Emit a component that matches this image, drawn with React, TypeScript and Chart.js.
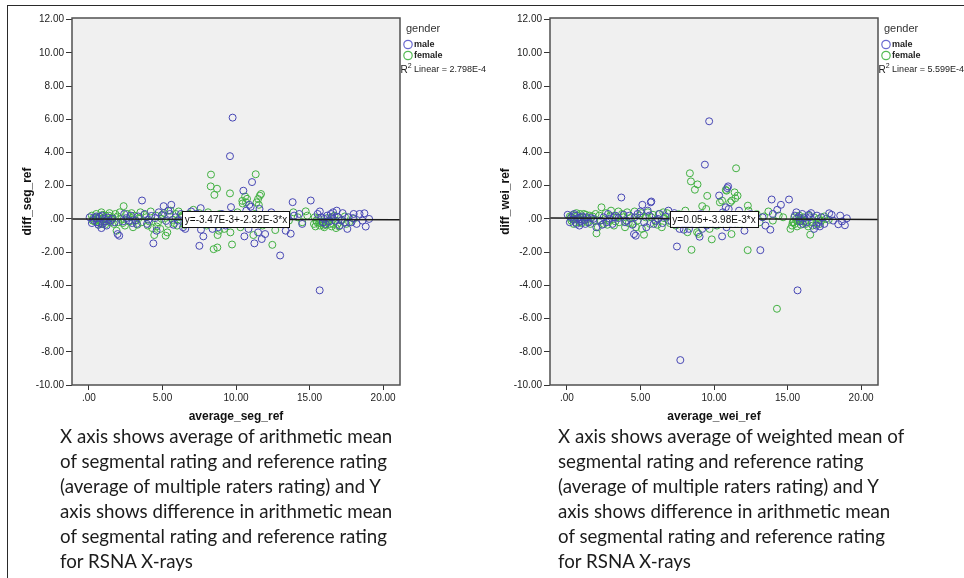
import React, { useEffect, useLayoutEffect, useRef } from 'react';
import { Chart, registerables } from 'chart.js';

Chart.register(...registerables);

// ---------- axis settings ----------
const X_MIN = -1.15;
const X_MAX = 21.15;
const Y_MIN = -10;
const Y_MAX = 12.1;
const X_STEP = 5;
const Y_STEP = 2;

const SERIES_NAMES = ['male', 'female'];
const LEGEND_TITLE = 'gender';

// ---------- left panel: segmental vs reference ----------
const SEG_X_TITLE = 'average_seg_ref';
const SEG_Y_TITLE = 'diff_seg_ref';
const SEG_EQUATION = 'y=-3.47E-3+-2.32E-3*x';
const SEG_R2 = '2.798E-4';
const SEG_INTERCEPT = -3.47e-3;
const SEG_SLOPE = -2.32e-3;

const SEG_MALE: number[][] = [
  [0.05, 0.1], [0.3, -0.05], [0.45, 0.05], [0.55, -0.2], [0.65, -0.35], [0.75, 0.12], [0.85, -0.55], [0.95, -0.3],
  [1.05, 0.0], [1.15, -0.15], [1.3, 0.08], [1.45, -0.1], [1.6, 0.02], [1.95, -0.91], [2.06, -1.01],
  [2.3, -0.15], [2.55, 0.05], [2.75, -0.1], [2.95, -0.25], [3.15, -0.08], [3.35, 0.15], [3.61, 1.11], [3.8, 0.3],
  [4.05, -0.05], [4.25, 0.18], [4.38, -1.47], [4.6, -0.71], [4.75, 0.4], [4.95, 0.22], [5.08, 0.77], [5.25, -0.12],
  [5.5, 0.3], [5.6, 0.85], [5.75, -0.35], [6.05, -0.1], [6.4, -0.5], [6.55, -0.6], [6.7, 0.12], [6.95, 0.45],
  [7.1, -0.2], [7.3, 0.3], [7.51, -1.62], [7.6, 0.65], [7.62, -0.65], [7.78, -1.05], [7.95, -0.3], [8.2, 0.1],
  [8.6, -0.2], [8.8, -0.5], [9.05, 0.3], [9.3, -0.4], [9.59, 3.78], [9.66, 0.71], [9.77, 6.1], [9.85, 0.2],
  [10.2, -0.3], [10.5, 1.7], [10.57, -1.05], [10.7, 0.5], [10.9, 0.85], [11.0, 0.73], [11.09, 2.22], [11.2, -0.3],
  [11.25, -1.47], [11.5, -0.81], [11.6, 0.6], [11.75, -1.21], [11.98, -0.91], [12.05, -0.2], [12.4, 0.4],
  [13.0, -2.2], [13.2, -0.3], [13.38, -0.71], [13.5, 0.1], [13.72, -0.89], [13.85, 1.01], [13.95, 0.2], [14.3, 0.3],
  [14.5, -0.3], [15.08, 1.11], [15.55, 0.3], [15.69, -4.3], [15.8, 0.1], [15.9, -0.2], [16.0, 0.0], [16.2, 0.2],
  [16.35, -0.15], [16.5, 0.1], [16.6, 0.4], [16.75, -0.1], [16.85, 0.5], [17.05, -0.4], [17.25, 0.35], [17.4, -0.2],
  [17.57, -0.6], [17.65, 0.1], [17.85, -0.2], [17.95, 0.05], [18.2, -0.3], [18.4, 0.3], [18.73, 0.34], [18.82, -0.46],
  [19.05, 0.0],
  [0.2, -0.25], [0.5, 0.15], [0.9, 0.2], [1.2, -0.4], [1.75, -0.2], [2.4, 0.3], [2.85, 0.2], [3.25, -0.3],
  [3.95, -0.3], [4.5, 0.05], [5.4, 0.5], [5.9, 0.1], [6.25, 0.3], [7.4, -0.1], [8.4, -0.6], [9.15, -0.1],
  [10.4, 0.1], [10.85, -0.6], [12.2, 0.15], [15.7, 0.45], [16.1, -0.3], [16.45, 0.3], [16.95, 0.1], [17.15, -0.1],
  [18.0, 0.3], [18.6, -0.1],
];

const SEG_FEMALE: number[][] = [
  [0.2, 0.2], [0.3, 0.05], [0.4, -0.15], [0.5, 0.3], [0.6, 0.0], [0.7, 0.15], [0.75, -0.25], [0.8, -0.1],
  [0.88, -0.3], [0.95, 0.25], [1.0, 0.05], [1.05, -0.15], [1.15, 0.18], [1.25, -0.05], [1.35, 0.2], [1.45, -0.2],
  [1.6, 0.1], [1.7, -0.3], [1.8, 0.3], [1.88, -0.71], [2.0, -0.2], [2.1, 0.4], [2.2, 0.0], [2.36, 0.77],
  [2.45, -0.4], [2.6, 0.3], [2.8, 0.1], [3.0, -0.5], [3.1, 0.2], [3.3, -0.35], [3.5, 0.4], [3.6, -0.2],
  [3.9, 0.1], [4.0, -0.4], [4.2, 0.45], [4.3, -0.55], [4.44, -0.97], [4.55, 0.2], [4.7, -0.2], [4.85, -0.6],
  [4.95, 0.0], [5.1, 0.35], [5.22, -1.01], [5.33, -0.81], [5.4, -0.3], [5.55, 0.5], [5.7, -0.05], [5.9, 0.3],
  [6.0, -0.4], [6.2, 0.1], [6.4, 0.25], [6.7, -0.2], [6.9, 0.15], [7.1, 0.55], [7.3, -0.3], [7.7, 0.1],
  [8.0, -0.4], [8.1, 0.4], [8.28, 1.96], [8.3, 2.67], [8.4, -0.1], [8.48, -1.82], [8.53, 1.45], [8.71, 1.82],
  [8.73, -1.72], [8.75, -0.97], [8.84, -0.71], [8.9, 0.3], [9.2, -0.6], [9.5, 0.1], [9.59, 1.54], [9.62, -0.81],
  [9.73, -1.54], [9.9, -0.3], [10.1, 0.4], [10.3, -0.5], [10.43, 1.09], [10.45, 0.93], [10.6, 0.2], [10.62, 1.35],
  [10.68, 1.0], [10.75, 1.21], [10.9, -0.1], [11.18, -0.97], [11.3, 0.3], [11.34, 2.69], [11.4, 1.0], [11.5, 1.2],
  [11.55, 0.85], [11.62, 1.4], [11.7, 1.5], [11.8, -0.4], [12.1, 0.2], [12.47, -1.56], [12.6, -0.2], [12.67, -0.67],
  [12.8, 0.05], [13.2, 0.25], [13.6, -0.1], [13.9, 0.4], [14.2, 0.1], [14.5, -0.2], [14.74, 0.46], [14.85, 0.2],
  [15.3, -0.3], [15.4, -0.45], [15.5, -0.2], [15.6, 0.05], [15.7, -0.4], [15.8, -0.15], [15.9, -0.25], [16.0, -0.5],
  [16.1, -0.35], [16.2, 0.05], [16.3, -0.1], [16.5, -0.45], [16.6, -0.3], [16.7, 0.2], [16.8, -0.55], [16.9, -0.3],
  [17.2, -0.05], [17.4, 0.15], [17.7, -0.2], [18.0, 0.0],
  [0.25, -0.1], [0.45, 0.1], [0.65, -0.35], [0.85, 0.4], [1.1, -0.35], [1.4, 0.35], [1.55, -0.05], [1.95, 0.15],
  [2.3, -0.25], [2.7, -0.15], [2.9, 0.35], [3.2, -0.1], [3.4, 0.05], [3.75, 0.25], [4.1, -0.15], [4.6, -0.45],
  [5.0, 0.25], [5.8, -0.25], [6.1, 0.45], [6.5, -0.35], [6.8, 0.3], [7.5, 0.35], [7.9, -0.15], [15.35, 0.1],
  [15.45, -0.1], [15.65, -0.25], [15.95, -0.4], [16.15, -0.2], [16.4, -0.3], [16.55, 0.1], [17.0, -0.45], [17.5, -0.3],
];

// ---------- right panel: weighted vs reference ----------
const WEI_X_TITLE = 'average_wei_ref';
const WEI_Y_TITLE = 'diff_wei_ref';
const WEI_EQUATION = 'y=0.05+-3.98E-3*x';
const WEI_R2 = '5.599E-4';
const WEI_INTERCEPT = 0.05;
const WEI_SLOPE = -3.98e-3;

const WEI_MALE: number[][] = [
  [0.05, 0.25], [0.3, 0.1], [0.45, -0.05], [0.55, 0.2], [0.65, -0.3], [0.75, 0.05], [0.85, -0.4], [0.95, -0.15],
  [1.05, 0.15], [1.2, -0.05], [1.35, 0.1], [1.5, -0.2], [1.65, 0.05], [2.0, -0.5], [2.25, -0.1], [2.5, 0.1],
  [2.7, -0.2], [2.9, 0.0], [3.1, -0.3], [3.3, 0.2], [3.5, 0.05], [3.7, 1.29], [3.85, 0.25], [4.05, -0.1],
  [4.25, 0.2], [4.45, -0.35], [4.56, -0.91], [4.68, -1.01], [4.8, 0.3], [5.0, 0.45], [5.13, 0.85], [5.25, -0.2],
  [5.4, -0.5], [5.6, 0.2], [5.7, 1.0], [5.74, 1.05], [5.9, -0.3], [6.2, 0.0], [6.5, -0.25], [6.7, 0.15],
  [6.9, 0.5], [7.1, -0.15], [7.3, 0.35], [7.48, -1.66], [7.66, -0.6], [7.71, -8.5], [7.95, -0.65], [8.1, 0.2],
  [8.3, -0.6], [8.6, 0.1], [9.02, -1.07], [9.1, 0.3], [9.38, 3.27], [9.5, -0.4], [9.67, 5.88], [9.8, 0.2],
  [10.1, -0.35], [10.35, 1.41], [10.55, -1.05], [10.6, 0.4], [10.8, 0.7], [10.9, 1.86], [10.96, 1.96], [11.0, 0.6],
  [11.3, -0.3], [11.7, 0.5], [12.07, -0.71], [12.2, -0.2], [12.5, 0.3], [13.15, -1.88], [13.3, 0.1], [13.5, -0.4],
  [13.83, -0.65], [13.92, 1.17], [14.0, 0.3], [14.3, 0.55], [14.55, 0.85], [15.1, 1.17], [15.5, 0.2], [15.68, -4.3],
  [15.75, 0.1], [15.85, -0.15], [16.0, 0.3], [16.15, 0.05], [16.3, -0.2], [16.45, 0.25], [16.6, 0.35], [16.8, -0.6],
  [16.95, -0.4], [17.1, -0.2], [17.3, 0.1], [17.5, -0.3], [17.83, 0.34], [18.1, -0.1], [18.45, -0.32], [18.58, 0.2],
  [18.9, -0.38], [19.03, 0.04],
  [0.2, -0.2], [0.5, 0.3], [0.9, 0.1], [1.25, -0.3], [1.8, 0.0], [2.4, -0.35], [2.8, 0.3], [3.2, 0.1],
  [3.95, -0.2], [4.6, 0.1], [5.5, 0.5], [6.0, -0.1], [6.3, 0.3], [7.4, -0.2], [8.4, -0.3], [9.2, -0.6],
  [10.4, 0.1], [10.85, -0.5], [12.3, 0.1], [15.6, 0.4], [16.05, -0.3], [16.5, 0.1], [17.0, 0.2], [17.2, -0.45],
  [18.0, 0.25], [18.7, -0.15],
];

const WEI_FEMALE: number[][] = [
  [0.2, 0.15], [0.3, -0.1], [0.4, 0.25], [0.5, 0.0], [0.6, -0.2], [0.7, 0.2], [0.8, -0.05], [0.9, 0.3],
  [1.0, -0.25], [1.1, 0.1], [1.2, -0.1], [1.3, 0.25], [1.45, 0.0], [1.6, -0.3], [1.75, 0.15], [1.85, -0.1],
  [2.01, -0.87], [2.1, -0.5], [2.2, 0.2], [2.35, 0.7], [2.5, -0.3], [2.65, 0.35], [2.85, -0.1], [3.0, 0.5],
  [3.2, -0.4], [3.4, 0.1], [3.55, -0.2], [3.75, 0.3], [3.95, -0.5], [4.1, 0.4], [4.3, 0.05], [4.5, -0.3],
  [4.6, 0.45], [4.8, -0.1], [4.95, 0.2], [5.1, -0.6], [5.24, -0.95], [5.35, 0.1], [5.5, 0.4], [5.65, -0.3],
  [5.85, 0.25], [6.05, -0.15], [6.25, 0.3], [6.45, -0.5], [6.6, 0.05], [6.8, 0.35], [7.0, -0.25], [7.2, 0.2],
  [7.4, -0.4], [7.6, 0.3], [7.85, -0.2], [8.05, 0.5], [8.2, -0.8], [8.36, 2.75], [8.43, 2.26], [8.47, -1.86],
  [8.55, 0.1], [8.7, 1.76], [8.85, -0.8], [8.88, 2.08], [8.95, -0.9], [9.2, 0.77], [9.3, -0.3], [9.47, 0.6],
  [9.54, 1.39], [9.7, -0.6], [9.85, -1.23], [10.0, 0.2], [10.2, -0.4], [10.4, 1.0], [10.55, 1.1], [10.7, 0.3],
  [10.8, 1.75], [10.85, 1.7], [11.0, -0.2], [11.1, 1.0], [11.19, -0.91], [11.2, 1.1], [11.4, 1.6], [11.45, 1.25],
  [11.5, 3.05], [11.6, 1.4], [11.75, -0.3], [12.0, 0.2], [12.29, -1.88], [12.3, 0.8], [12.35, 0.5], [12.6, -0.1],
  [12.9, 0.3], [13.1, -0.2], [13.4, 0.15], [13.7, 0.45], [14.0, -0.1], [14.28, -5.41], [14.4, 0.2], [14.7, 0.1],
  [15.2, -0.6], [15.3, -0.4], [15.4, -0.2], [15.5, -0.3], [15.6, 0.0], [15.7, -0.15], [15.8, 0.2], [15.9, -0.35],
  [16.0, -0.1], [16.1, 0.1], [16.25, -0.3], [16.4, -0.45], [16.54, -0.95], [16.65, -0.2], [16.8, 0.1], [16.95, -0.3],
  [17.1, 0.0], [17.3, -0.1], [17.5, 0.15], [17.8, -0.05],
  [0.25, 0.05], [0.45, -0.3], [0.65, 0.35], [0.85, -0.2], [1.15, 0.3], [1.4, -0.2], [1.55, 0.2], [1.95, 0.3],
  [2.3, -0.1], [2.75, -0.35], [2.95, 0.2], [3.3, -0.15], [3.5, 0.45], [3.85, 0.1], [4.2, -0.25], [4.7, -0.5],
  [5.05, 0.35], [5.75, 0.1], [6.15, -0.35], [6.55, 0.4], [6.9, -0.1], [7.5, 0.1], [7.95, 0.25], [15.35, -0.2],
  [15.45, 0.1], [15.65, -0.45], [15.95, 0.0], [16.2, -0.15], [16.45, 0.2], [16.7, -0.4], [17.2, -0.3], [17.6, 0.0],
];

// ---------- captions ----------
const SEG_CAPTION = [
  'X axis shows average of arithmetic mean',
  'of segmental rating and reference rating',
  '(average of multiple raters rating) and Y',
  'axis shows difference in arithmetic mean',
  'of segmental rating and reference rating',
  'for RSNA X-rays',
];
const WEI_CAPTION = [
  'X axis shows average of weighted mean of',
  'segmental rating and reference rating',
  '(average of multiple raters rating) and Y',
  'axis shows difference in arithmetic mean',
  'of segmental rating and reference rating',
  'for RSNA X-rays',
];

// ---------- styles ----------
const FONT = '"Liberation Sans", Arial, Helvetica, sans-serif';
const MALE_COLOR = '#4747b5';
const FEMALE_COLOR = '#42b142';
const MALE_LEGEND = '#6a6ad0';
const FEMALE_LEGEND = '#55bb55';
const PLOT_BG = '#f0f0f0';

const fmtTick = (v: number) => {
  const s = Math.abs(v).toFixed(2);
  const t = s.startsWith('0') ? s.slice(1) : s;
  return (v < 0 ? '-' : '') + t;
};

function decorPlugin(equation: string, r2: string, intercept: number, slope: number) {
  return {
    id: 'spssDecor',
    beforeDatasetsDraw(chart: any) {
      const { ctx, chartArea: a } = chart;
      ctx.save();
      ctx.fillStyle = PLOT_BG;
      ctx.fillRect(a.left, a.top, a.right - a.left, a.bottom - a.top);
      ctx.restore();
    },
    afterDatasetsDraw(chart: any) {
      const { ctx, chartArea: a, scales } = chart;
      ctx.save();
      ctx.strokeStyle = '#505050';
      ctx.lineWidth = 1.5;
      ctx.strokeRect(a.left, a.top, a.right - a.left, a.bottom - a.top);

      // equation label on the fit line
      const cx = (a.left + a.right) / 2;
      const xv = scales.x.getValueForPixel(cx);
      const cy = scales.y.getPixelForValue(intercept + slope * xv);
      ctx.font = `10px ${FONT}`;
      const w = ctx.measureText(equation).width + 5;
      const h = 16;
      ctx.fillStyle = '#ffffff';
      ctx.fillRect(cx - w / 2, cy - h / 2, w, h);
      ctx.strokeStyle = '#111';
      ctx.lineWidth = 1;
      ctx.strokeRect(Math.round(cx - w / 2) + 0.5, Math.round(cy - h / 2) + 0.5, Math.round(w), h);
      ctx.fillStyle = '#111';
      ctx.textAlign = 'center';
      ctx.textBaseline = 'middle';
      ctx.fillText(equation, cx, cy + 1);

      // legend
      const lx = a.right;
      ctx.textAlign = 'left';
      ctx.textBaseline = 'middle';
      ctx.fillStyle = '#333';
      ctx.font = `11px ${FONT}`;
      ctx.fillText(LEGEND_TITLE, lx + 6, 29);
      const items = [
        { name: SERIES_NAMES[0], color: MALE_LEGEND, y: 44.5 },
        { name: SERIES_NAMES[1], color: FEMALE_LEGEND, y: 55.5 },
      ];
      items.forEach((it) => {
        ctx.beginPath();
        ctx.arc(lx + 8, it.y, 4.2, 0, Math.PI * 2);
        ctx.strokeStyle = it.color;
        ctx.lineWidth = 1.2;
        ctx.stroke();
        ctx.fillStyle = '#222';
        ctx.font = `bold 9px ${FONT}`;
        ctx.fillText(it.name, lx + 14, it.y + 0.5);
      });
      ctx.fillStyle = '#222';
      ctx.font = `10px ${FONT}`;
      let x = lx + 0.5;
      ctx.fillText('R', x, 70);
      x += ctx.measureText('R').width;
      ctx.font = `7px ${FONT}`;
      ctx.fillText('2', x, 66);
      x += ctx.measureText('2').width;
      ctx.font = `9px ${FONT}`;
      ctx.fillText(' Linear = ' + r2, x, 70);
      ctx.restore();
    },
  };
}

type PanelProps = {
  left: number;
  width: number;
  height: number;
  yAxisWidth: number;
  yTitlePad: number;
  padRight: number;
  xTitle: string;
  yTitle: string;
  male: number[][];
  female: number[][];
  intercept: number;
  slope: number;
  equation: string;
  r2: string;
};

function Panel(p: PanelProps) {
  const ref = useRef<HTMLCanvasElement>(null);
  useEffect(() => {
    if (!ref.current) return;
    const fit = [X_MIN, X_MAX].map((x) => ({ x, y: p.intercept + p.slope * x }));
    const chart = new Chart(ref.current, {
      type: 'scatter',
      data: {
        datasets: [
          {
            type: 'line',
            label: 'fit',
            data: fit,
            borderColor: '#1a1a1a',
            borderWidth: 1.5,
            pointRadius: 0,
            fill: false,
            order: 0,
          } as any,
          {
            label: SERIES_NAMES[0],
            data: p.male.map(([x, y]) => ({ x, y })),
            pointStyle: 'circle',
            pointRadius: 3.5,
            borderColor: MALE_COLOR,
            backgroundColor: 'rgba(0,0,0,0)',
            borderWidth: 1,
            order: 1,
          },
          {
            label: SERIES_NAMES[1],
            data: p.female.map(([x, y]) => ({ x, y })),
            pointStyle: 'circle',
            pointRadius: 3.5,
            borderColor: FEMALE_COLOR,
            backgroundColor: 'rgba(0,0,0,0)',
            borderWidth: 1,
            order: 2,
          },
        ],
      },
      options: {
        animation: false,
        responsive: false,
        devicePixelRatio: 1,
        events: [],
        layout: { padding: { top: 18, right: p.padRight, left: 0, bottom: 0 } },
        plugins: { legend: { display: false }, tooltip: { enabled: false } },
        scales: {
          x: {
            type: 'linear',
            min: X_MIN,
            max: X_MAX,
            afterFit: (s: any) => {
              s.height = 45;
            },
            ticks: {
              stepSize: X_STEP,
              includeBounds: false,
              autoSkip: false,
              maxRotation: 0,
              padding: 2,
              color: '#222',
              font: { family: FONT, size: 10 },
              callback: (v: any) => fmtTick(Number(v)),
            },
            grid: { drawOnChartArea: false, drawTicks: true, tickLength: 5, color: '#333', lineWidth: 1 },
            border: { display: false },
            title: {
              display: true,
              text: p.xTitle,
              color: '#111',
              font: { family: FONT, size: 12, weight: 'bold' },
              padding: { top: 0, bottom: 6 },
            },
          },
          y: {
            type: 'linear',
            min: Y_MIN,
            max: Y_MAX,
            afterFit: (s: any) => {
              s.width = p.yAxisWidth;
            },
            ticks: {
              stepSize: Y_STEP,
              includeBounds: false,
              autoSkip: false,
              padding: 2,
              color: '#222',
              font: { family: FONT, size: 10 },
              callback: (v: any) => fmtTick(Number(v)),
            },
            grid: { drawOnChartArea: false, drawTicks: true, tickLength: 6, color: '#333', lineWidth: 1 },
            border: { display: false },
            title: {
              display: true,
              text: p.yTitle,
              color: '#111',
              font: { family: FONT, size: 12, weight: 'bold' },
              padding: { top: p.yTitlePad, bottom: 0 },
            },
          },
        },
      } as any,
      plugins: [decorPlugin(p.equation, p.r2, p.intercept, p.slope)],
    });
    return () => chart.destroy();
  }, []);
  return (
    <canvas
      ref={ref}
      width={p.width}
      height={p.height}
      style={{ position: 'absolute', left: p.left, top: 0, width: p.width, height: p.height }}
    />
  );
}

function Caption({ lines, left, top, target }: { lines: string[]; left: number; top: number; target: number }) {
  const ref = useRef<HTMLDivElement>(null);
  useLayoutEffect(() => {
    const fit = () => {
      const el = ref.current;
      if (!el) return;
      const span = el.querySelector('span') as HTMLElement;
      const w = span.getBoundingClientRect().width;
      if (w > 0) el.style.transform = `scaleX(${target / w})`;
    };
    fit();
    if ((document as any).fonts && (document as any).fonts.ready) (document as any).fonts.ready.then(fit);
  }, []);
  return (
    <div
      ref={ref}
      style={{
        position: 'absolute',
        left,
        top,
        transformOrigin: '0 0',
        fontFamily: 'Lato, "Open Sans", sans-serif',
        fontSize: 18.7,
        lineHeight: '25px',
        color: '#1c1c1c',
        whiteSpace: 'nowrap',
      }}
    >
      {lines.map((l, i) => (
        <div key={i}>
          <span style={{ display: 'inline-block' }}>{l}</span>
        </div>
      ))}
    </div>
  );
}

export default function App() {
  return (
    <div
      style={{
        position: 'fixed',
        left: 0,
        top: 0,
        width: 964,
        height: 578,
        background: '#ffffff',
        overflow: 'hidden',
      }}
    >
      <div
        style={{
          position: 'absolute',
          left: 7,
          top: 5,
          width: 970,
          height: 590,
          borderTop: '1.5px solid #2a2a2a',
          borderLeft: '1.5px solid #2a2a2a',
        }}
      />
      <Panel
        left={0}
        width={490}
        height={430}
        yAxisWidth={72}
        yTitlePad={20}
        padRight={90}
        xTitle={SEG_X_TITLE}
        yTitle={SEG_Y_TITLE}
        male={SEG_MALE}
        female={SEG_FEMALE}
        intercept={SEG_INTERCEPT}
        slope={SEG_SLOPE}
        equation={SEG_EQUATION}
        r2={SEG_R2}
      />
      <Panel
        left={486}
        width={478}
        height={430}
        yAxisWidth={64}
        yTitlePad={12}
        padRight={86}
        xTitle={WEI_X_TITLE}
        yTitle={WEI_Y_TITLE}
        male={WEI_MALE}
        female={WEI_FEMALE}
        intercept={WEI_INTERCEPT}
        slope={WEI_SLOPE}
        equation={WEI_EQUATION}
        r2={WEI_R2}
      />
      <Caption lines={SEG_CAPTION} left={60} top={424} target={336} />
      <Caption lines={WEI_CAPTION} left={558} top={424} target={350} />
    </div>
  );
}
